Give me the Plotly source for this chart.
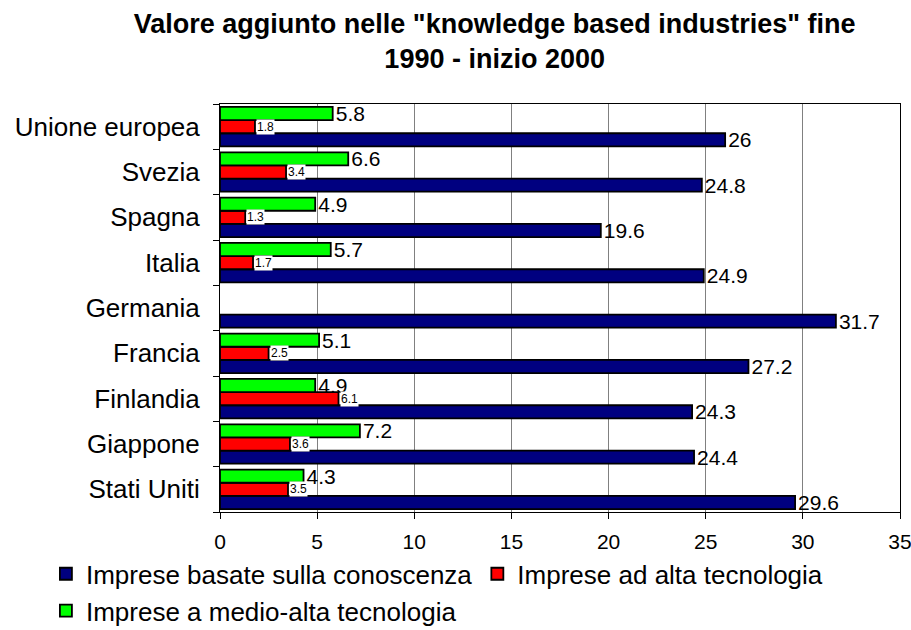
import plotly.graph_objects as go

categories = ["Stati Uniti", "Giappone", "Finlandia", "Francia", "Germania",
              "Italia", "Spagna", "Svezia", "Unione europea"]
knowledge = [29.6, 24.4, 24.3, 27.2, 31.7, 24.9, 19.6, 24.8, 26]
high_tech = [3.5, 3.6, 6.1, 2.5, None, 1.7, 1.3, 3.4, 1.8]
medium_high = [4.3, 7.2, 4.9, 5.1, None, 5.7, 4.9, 6.6, 5.8]
x_ticks = [0, 5, 10, 15, 20, 25, 30, 35]

FONT = "Arial, Liberation Sans, sans-serif"

fig = go.Figure()
fig.add_trace(go.Bar(
    y=categories, x=knowledge, orientation="h",
    name="Imprese basate sulla conoscenza",
    marker=dict(color="#000080", line=dict(color="black", width=1.8)),
    text=knowledge, texttemplate="%{x}", textposition="outside",
    textfont=dict(size=21, color="black", family=FONT),
    constraintext="none", cliponaxis=False,
))
fig.add_trace(go.Bar(
    y=categories, x=high_tech, orientation="h",
    name="Imprese ad alta tecnologia",
    marker=dict(color="#FF0000", line=dict(color="black", width=1.8)),
))
fig.add_trace(go.Bar(
    y=categories, x=medium_high, orientation="h",
    name="Imprese a medio-alta tecnologia",
    marker=dict(color="#00FF00", line=dict(color="black", width=1.8)),
    text=medium_high, texttemplate="%{x}", textposition="outside",
    textfont=dict(size=21, color="black", family=FONT),
    constraintext="none", cliponaxis=False,
))

for cat, v in zip(categories, high_tech):
    if v is None:
        continue
    fig.add_annotation(
        x=v, y=cat, xref="x", yref="y", text=str(v), showarrow=False,
        xanchor="left", yanchor="middle", xshift=1,
        font=dict(size=12, color="black", family=FONT),
        bgcolor="white", borderpad=0,
    )

fig.update_layout(
    width=911, height=630,
    margin=dict(l=220, r=11, t=104, b=118, autoexpand=False),
    paper_bgcolor="white", plot_bgcolor="white",
    barmode="group", bargap=0.13, bargroupgap=0,
    font=dict(family=FONT, color="black"),
    title=dict(
        text="<b>Valore aggiunto nelle \"knowledge based industries\" fine<br>1990 - inizio 2000</b>",
        x=0.543, xanchor="center", xref="container",
        y=0.947, yanchor="top", yref="container",
        font=dict(size=27, family=FONT, color="black"),
    ),
    xaxis=dict(
        range=[0, 35], tickvals=x_ticks, ticktext=[str(t) for t in x_ticks],
        showgrid=True, gridcolor="#808080", gridwidth=1,
        showline=True, linecolor="black", linewidth=1, mirror=True,
        ticks="outside", ticklen=6, tickcolor="black",
        tickfont=dict(size=21, family=FONT, color="black"),
        ticklabelstandoff=5, ticklabeloverflow="allow", automargin=False,
        zeroline=False, fixedrange=True,
    ),
    yaxis=dict(
        categoryorder="array", categoryarray=categories,
        showline=True, linecolor="black", linewidth=1, mirror=True,
        ticks="outside", ticklen=6, tickcolor="black", tickson="boundaries",
        tickfont=dict(size=26, family=FONT, color="black"),
        ticklabelstandoff=14, showgrid=False, fixedrange=True, automargin=False,
    ),
    legend=dict(
        orientation="h", x=-0.256, xanchor="left", y=-0.094, yanchor="top",
        font=dict(size=26, family=FONT, color="black"),
        traceorder="normal", bgcolor="rgba(0,0,0,0)",
    ),
    showlegend=True,
)

fig.write_html("out.html", config={"displayModeBar": False},
               post_script="document.body.style.margin='0';")
